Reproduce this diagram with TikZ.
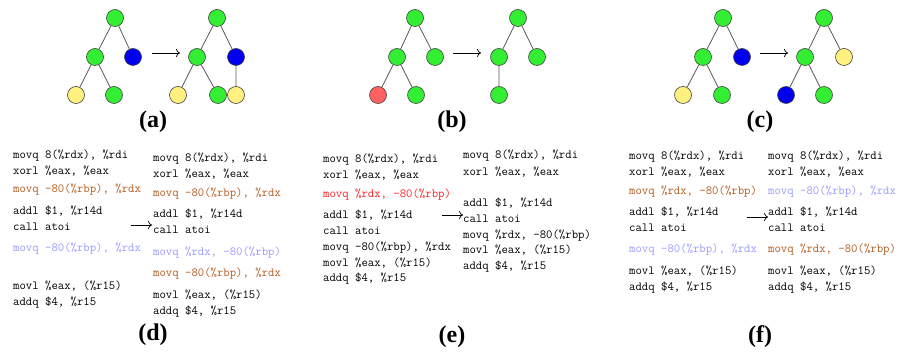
\documentclass[tikz,border=0pt]{standalone}
\usepackage{fontspec}
\newfontfamily\capfont{Liberation Serif}
\usetikzlibrary{arrows.meta}
\definecolor{ngreen}{HTML}{33EE33}
\definecolor{nblue}{HTML}{0000EE}
\definecolor{nyellow}{HTML}{FFF080}
\definecolor{nred}{HTML}{FF6060}
\definecolor{cbrown}{HTML}{B35A1F}
\definecolor{clblue}{HTML}{9999FF}
\definecolor{cred}{HTML}{FF2020}
\begin{document}
\begin{tikzpicture}[x=1pt,y=-1pt,
  vert/.style={circle,draw=black!75,line width=0.6pt,minimum size=17pt,inner sep=0pt},
  gn/.style={vert,fill=ngreen},
  bl/.style={vert,fill=nblue},
  yl/.style={vert,fill=nyellow},
  rd/.style={vert,fill=nred},
  tedge/.style={draw=black!65,line width=0.8pt},
  trans/.style={-{To[length=4pt,width=8pt]},line width=0.7pt},
  code/.style={anchor=base west,inner sep=0pt,font=\fontsize{12.4pt}{16pt}\ttfamily},
  sublabel/.style={font=\capfont\bfseries\fontsize{24pt}{26pt}\selectfont}]
\useasboundingbox (0,0) rectangle (901,352);

% ---- tree (a) ----
\node[gn] (a1r) at (115,18) {};
\node[gn] (a1m) at (95,57) {};
\node[bl] (a1b) at (133,57) {};
\node[yl] (a1y) at (76,95) {};
\node[gn] (a1g) at (114,95) {};
\draw[tedge] (a1r)--(a1m) (a1r)--(a1b) (a1m)--(a1y) (a1m)--(a1g);
\node[gn] (a2r) at (217,18) {};
\node[gn] (a2m) at (197,57) {};
\node[bl] (a2b) at (236,57) {};
\node[yl] (a2y) at (178,95) {};
\node[gn] (a2g) at (218,95) {};
\node[yl] (a2z) at (236,95) {};
\draw[tedge] (a2r)--(a2m) (a2r)--(a2b) (a2m)--(a2y) (a2m)--(a2g) (a2b)--(a2z);
\coordinate (aas) at (152,53); \coordinate (aae) at (180,53);
\draw[trans] (aas)--(aae);
\node[sublabel] (capa) at (153,122) {(a)};

% ---- tree (b) ----
\node[gn] (b1r) at (415,18) {};
\node[gn] (b1m) at (397,57) {};
\node[gn] (b1c) at (435,57) {};
\node[rd] (b1x) at (378,95) {};
\node[gn] (b1g) at (416,95) {};
\draw[tedge] (b1r)--(b1m) (b1r)--(b1c) (b1m)--(b1x) (b1m)--(b1g);
\node[gn] (b2r) at (518,18) {};
\node[gn] (b2m) at (499,57) {};
\node[gn] (b2c) at (537,57) {};
\node[gn] (b2g) at (499,95) {};
\draw[tedge] (b2r)--(b2m) (b2r)--(b2c) (b2m)--(b2g);
\coordinate (bas) at (453,53); \coordinate (bae) at (481,53);
\draw[trans] (bas)--(bae);
\node[sublabel] (capb) at (452,122) {(b)};

% ---- tree (c) ----
\node[gn] (c1r) at (723,18) {};
\node[gn] (c1m) at (703,57) {};
\node[bl] (c1b) at (742,57) {};
\node[yl] (c1y) at (683,95) {};
\node[gn] (c1g) at (722,95) {};
\draw[tedge] (c1r)--(c1m) (c1r)--(c1b) (c1m)--(c1y) (c1m)--(c1g);
\node[gn] (c2r) at (824,18) {};
\node[gn] (c2m) at (805,57) {};
\node[yl] (c2y) at (844,57) {};
\node[bl] (c2b) at (786,95) {};
\node[gn] (c2g) at (824,95) {};
\draw[tedge] (c2r)--(c2m) (c2r)--(c2y) (c2m)--(c2b) (c2m)--(c2g);
\coordinate (cas) at (760,53); \coordinate (cae) at (788,53);
\draw[trans] (cas)--(cae);
\node[sublabel] (capc) at (760,122) {(c)};

% ---- code (d) ----
\node[code] (d11) at (13,158.5) {movq 8(\%rdx), \%rdi};
\node[code] (d12) at (13,174.5) {xorl \%eax, \%eax};
\node[code,text=cbrown] (d13) at (13,192.5) {movq -80(\%rbp), \%rdx};
\node[code] (d14) at (13,214.5) {addl \$1, \%r14d};
\node[code] (d15) at (13,230.5) {call atoi};
\node[code,text=clblue] (d16) at (13,251.5) {movq -80(\%rbp), \%rdx};
\node[code] (d17) at (13,289.5) {movl \%eax, (\%r15)};
\node[code] (d18) at (13,305.5) {addq \$4, \%r15};
\node[code] (d21) at (153,161.5) {movq 8(\%rdx), \%rdi};
\node[code] (d22) at (153,177.5) {xorl \%eax, \%eax};
\node[code,text=cbrown] (d23) at (153,196.5) {movq -80(\%rbp), \%rdx};
\node[code] (d24) at (153,217.5) {addl \$1, \%r14d};
\node[code] (d25) at (153,233.5) {call atoi};
\node[code,text=clblue] (d26) at (153,255.5) {movq \%rdx, -80(\%rbp)};
\node[code,text=cbrown] (d27) at (153,276.5) {movq -80(\%rbp), \%rdx};
\node[code] (d28) at (153,298.5) {movl \%eax, (\%r15)};
\node[code] (d29) at (153,314.5) {addq \$4, \%r15};
\coordinate (das) at (131,225); \coordinate (dae) at (152,225);
\draw[trans] (das)--(dae);
\node[sublabel] (capd) at (153,335) {(d)};

% ---- code (e) ----
\node[code] (e11) at (323,162.5) {movq 8(\%rdx), \%rdi};
\node[code] (e12) at (323,178.5) {xorl \%eax, \%eax};
\node[code,text=cred] (e13) at (323,197.5) {movq \%rdx, -80(\%rbp)};
\node[code] (e14) at (323,218.5) {addl \$1, \%r14d};
\node[code] (e15) at (323,234.5) {call atoi};
\node[code] (e16) at (323,250.5) {movq -80(\%rbp), \%rdx};
\node[code] (e17) at (323,266.5) {movl \%eax, (\%r15)};
\node[code] (e18) at (323,281.5) {addq \$4, \%r15};
\node[code] (e21) at (463,158.5) {movq 8(\%rdx), \%rdi};
\node[code] (e22) at (463,175.5) {xorl \%eax, \%eax};
\node[code] (e23) at (463,206.5) {addl \$1, \%r14d};
\node[code] (e24) at (463,222.5) {call atoi};
\node[code] (e25) at (463,238.5) {movq \%rdx, -80(\%rbp)};
\node[code] (e26) at (463,253.5) {movl \%eax, (\%r15)};
\node[code] (e27) at (463,269.5) {addq \$4, \%r15};
\coordinate (eas) at (442,215); \coordinate (eae) at (463,215);
\draw[trans] (eas)--(eae);
\node[sublabel] (cape) at (452,337) {(e)};

% ---- code (f) ----
\node[code] (f11) at (629,159.5) {movq 8(\%rdx), \%rdi};
\node[code] (f12) at (629,175.5) {xorl \%eax, \%eax};
\node[code,text=cbrown] (f13) at (629,194.5) {movq \%rdx, -80(\%rbp)};
\node[code] (f14) at (629,215.5) {addl \$1, \%r14d};
\node[code] (f15) at (629,231.5) {call atoi};
\node[code,text=clblue] (f16) at (629,252.5) {movq -80(\%rbp), \%rdx};
\node[code] (f17) at (629,274.5) {movl \%eax, (\%r15)};
\node[code] (f18) at (629,290.5) {addq \$4, \%r15};
\node[code] (f21) at (768,159.5) {movq 8(\%rdx), \%rdi};
\node[code] (f22) at (768,175.5) {xorl \%eax, \%eax};
\node[code,text=clblue] (f23) at (768,194.5) {movq -80(\%rbp), \%rdx};
\node[code] (f24) at (768,215.5) {addl \$1, \%r14d};
\node[code] (f25) at (768,231.5) {call atoi};
\node[code,text=cbrown] (f26) at (768,252.5) {movq \%rdx, -80(\%rbp)};
\node[code] (f27) at (768,274.5) {movl \%eax, (\%r15)};
\node[code] (f28) at (768,290.5) {addq \$4, \%r15};
\coordinate (fas) at (747,217); \coordinate (fae) at (768,217);
\draw[trans] (fas)--(fae);
\node[sublabel] (capf) at (760,337) {(f)};
\end{tikzpicture}
\end{document}
